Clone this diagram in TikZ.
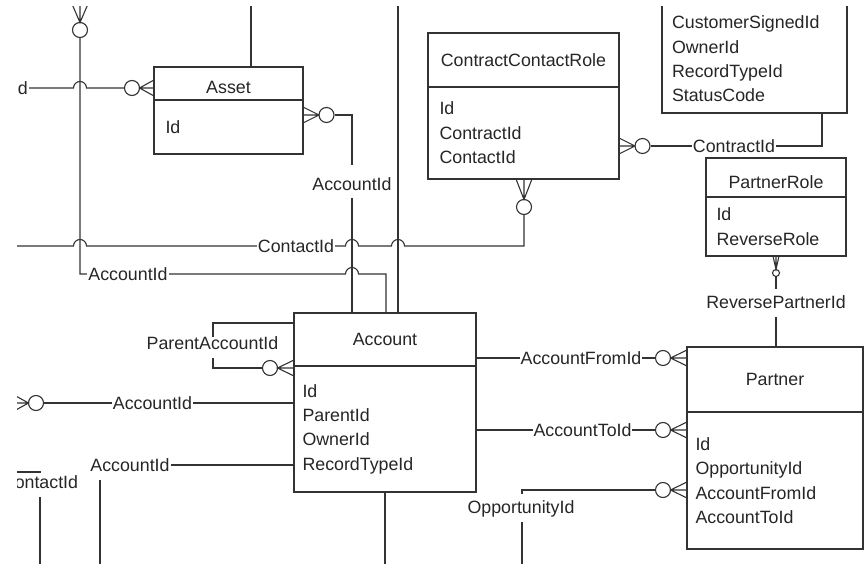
\documentclass[tikz,border=0pt]{standalone}
\usepackage{fontspec}
\setmainfont{Liberation Sans}

\newcommand{\crowh}[4][8]{\draw[rel] (#2,{#3-#1}) -- ({#2+#4},#3) -- (#2,{#3+#1}) (#2,#3) -- ({#2+#4},#3);}
\newcommand{\crowv}[4][8]{\draw[rel] ({#2-#1},#3) -- (#2,{#3+#4}) -- ({#2+#1},#3) (#2,#3) -- (#2,{#3+#4});}

\begin{document}
\begin{tikzpicture}[x=1pt,y=-1pt,
    font=\fontsize{17.8}{24.4}\selectfont,
    ent/.style={draw=black!80,line width=1.3pt,fill=white,inner sep=0pt,text=black!85},
    fields/.style={ent,align=left},
    rel/.style={draw=black!80,line width=1.1pt},
    ring/.style={circle,draw=black!80,line width=1.1pt,fill=white,inner sep=0pt,minimum size=15pt},
    rlabel/.style={fill=white,inner xsep=1pt,inner ysep=1pt,text=black!85}]
    \useasboundingbox (0,0) rectangle (867,564);
    \clip (17,7) rectangle (867,564);

    \node[ent,minimum width=149pt,minimum height=33pt,text height=20pt,text depth=0pt] (asset) at (228.5,83.5) {Asset};
    \node[fields,minimum height=54pt,text width=126pt,inner xsep=11.5pt] (assetb) at (228.5,127) {Id};
    \node[ent,minimum width=191pt,minimum height=54pt] (ccr) at (523.5,60) {ContractContactRole};
    \node[fields,minimum height=92pt,text width=168pt,inner xsep=11.5pt] (ccrb) at (523.5,133) {Id\\ContractId\\ContactId};
    \node[fields,minimum height=108pt,text width=165pt,inner xsep=10pt] (contract) at (754.5,59) {CustomerSignedId\\OwnerId\\RecordTypeId\\StatusCode};
    \node[ent,minimum width=140pt,minimum height=39pt,text height=22pt,text depth=0pt] (prole) at (776,177.5) {PartnerRole};
    \node[fields,minimum height=59pt,text width=119pt,inner xsep=10.5pt] (proleb) at (776,226.5) {Id\\ReverseRole};
    \node[ent,minimum width=182pt,minimum height=53pt] (acct) at (385,339.5) {Account};
    \node[fields,minimum height=126pt,text width=165pt,inner xsep=8.5pt] (acctb) at (385,429) {Id\\ParentId\\OwnerId\\RecordTypeId};
    \node[ent,minimum width=176pt,minimum height=65pt] (partner) at (775,379.5) {Partner};
    \node[fields,minimum height=137pt,text width=159pt,inner xsep=8.5pt] (partnerb) at (775,480.5) {Id\\OpportunityId\\AccountFromId\\AccountToId};

    \node[ring] (oContact) at (80,30) {};
    \node[ring] (oAssetL) at (132,88) {};
    \node[ring] (oAssetR) at (326.5,115) {};
    \node[ring] (oCCRr) at (642.5,146) {};
    \node[ring] (oCCRb) at (524,207) {};
    \node[ring] (oParent) at (270,368) {};
    \node[ring] (oLeft) at (36,403) {};
    \node[ring] (oFrom) at (663,358) {};
    \node[ring] (oTo) at (663,430) {};
    \node[ring] (oOpp) at (663,490) {};
    \node[ring,minimum size=7pt] (oRev) at (776,273) {};

    \crowv{80}{4}{18.5}
    \crowh{154}{88}{-14.5}
    \crowh{303}{115}{16}
    \crowh{619}{146}{16}
    \crowv{524}{179}{20.5}
    \crowh{294}{368}{-16.5}
    \crowh{14}{403}{14.5}
    \crowh{687}{358}{-16.5}
    \crowh{687}{430}{-16.5}
    \crowh{687}{490}{-16.5}
    \crowv[3]{776}{256}{13.5}

    \node[rlabel,anchor=east] (lCon0) at (29,88) {ContactId};
    \draw[rel] (lCon0.east) -- (73.5,88) arc[start angle=180,end angle=0,radius=6.5pt] -- (oAssetL);
    \draw[rel] (oContact) -- (80,274) -- (345.5,274) arc[start angle=180,end angle=0,radius=6.5pt] -- (386,274) -- (acct.north -| 386,0);
    \draw[rel] (0,246) -- (73.5,246) arc[start angle=180,end angle=0,radius=6.5pt] -- (345.5,246) arc[start angle=180,end angle=0,radius=6.5pt] -- (391.5,246) arc[start angle=180,end angle=0,radius=6.5pt] -- (524,246) -- (oCCRb);
    \draw[rel] (oAssetR) -- (352,115) -- (acct.north -| 352,0);
    \draw[rel] (asset.north -| 251,0) -- (251,0);
    \draw[rel] (398,0) -- (acct.north -| 398,0);
    \draw[rel] (oCCRr) -- (822,146) -- (contract.south -| 822,0);
    \draw[rel] (acct.west |- 0,323) -- (213,323) -- (213,368) -- (oParent);
    \draw[rel] (acctb.west |- 0,403) -- (oLeft);
    \draw[rel] (acctb.west |- 0,465) -- (100,465) -- (100,570);
    \draw[rel] (0,472) -- (40,472) -- (40,570);
    \draw[rel] (acctb.south) -- (385,570);
    \draw[rel] (acct.east |- 0,358) -- (oFrom);
    \draw[rel] (acctb.east |- 0,430) -- (oTo);
    \draw[rel] (oOpp) -- (522,490) -- (522,570);
    \draw[rel] (oRev) -- (partner.north -| 776,0);

    \node[rlabel] (lAcc1) at (128,274) {AccountId};
    \node[rlabel] (lCon1) at (296,246) {ContactId};
    \node[rlabel,anchor=base,text height=24pt,text depth=7pt] (lAcc2) at (352,190) {AccountId};
    \node[rlabel] (lCtr) at (734,146) {ContractId};
    \node[rlabel,anchor=base,text height=12pt,text depth=7.5pt] (lPar) at (212.5,349.5) {ParentAccountId};
    \node[rlabel] (lAcc3) at (152.5,403) {AccountId};
    \node[rlabel,anchor=base,text depth=7pt] (lAcc4) at (130,471.5) {AccountId};
    \node[rlabel,anchor=north,inner ysep=2pt,text depth=7pt] (lCon2) at (40,473) {ContactId};
    \node[rlabel] (lFrom) at (581,358) {AccountFromId};
    \node[rlabel] (lTo) at (582.5,430) {AccountToId};
    \node[rlabel,anchor=base,text height=19pt,text depth=7.5pt] (lOpp) at (521,513.5) {OpportunityId};
    \node[rlabel,anchor=base,text height=19pt,text depth=7pt] (lRev) at (776,308.5) {ReversePartnerId};
\end{tikzpicture}
\end{document}
